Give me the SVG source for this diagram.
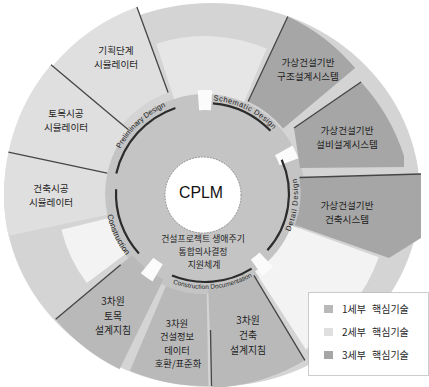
<svg xmlns="http://www.w3.org/2000/svg" width="429" height="387" viewBox="0 0 429 387">
<defs>
<style>
.ko{font-family:"Noto Sans CJK KR","Noto Sans",sans-serif;fill:#1e1e1e;text-anchor:middle}
.lab{font-size:9.6px}
.ph{font-family:"Liberation Sans",Arial,sans-serif;fill:#1e1e1e;text-anchor:middle}
.s2{fill:#dfdfdf}
.s1{fill:#b9b9b9}
.s3{fill:#a6a6a6}
.gap{fill:#f3f3f3}
.notch{fill:#fbfbfb}
.edge{stroke:#454545;stroke-width:1.3;fill:none}
.arc{stroke:#2c2c2c;stroke-width:2.2;fill:none}
.lg{font-family:"Noto Sans CJK KR","Noto Sans",sans-serif;font-size:10px;fill:#1e1e1e}
</style>
<path id="pPre" d="M113.2,165.9 A96 96 0 0 1 183.4,100.5"/>
<path id="pSch" d="M198.4,100.2 A94 94 0 0 1 282.9,141.4"/>
<path id="pDet" d="M279.3,250.0 A93 93 0 0 0 290.6,157.7"/>
<path id="pDoc" d="M164.9,280.1 A95 95 0 0 0 259.5,271.8"/>
<path id="pCon" d="M105.4,202.7 A100 100 0 0 0 134.3,264.7"/>
</defs>
<rect width="429" height="387" fill="#ffffff"/>
<g id="background">
<ellipse cx="212" cy="195" rx="208" ry="192" fill="#d4d4d4"/>
<circle cx="205" cy="194" r="100" fill="#c4c4c4"/>
<path fill="#e6e6e6" d="M174.1,98.9 L156.2,43.7 A158 158 0 0 1 266.7,48.6 L244.1,102.0 A100 100 0 0 0 174.1,98.9 Z"/>
<path class="gap" d="M125.1,254.2 L86.8,283.1 A148 148 0 0 1 61.4,229.8 L108.0,218.2 A100 100 0 0 0 125.1,254.2 Z"/>
<path class="gap" d="M291.5,225.5 L378.8,257.3 A185 185 0 0 1 305.8,349.2 L255.1,271.2 A92 92 0 0 0 291.5,225.5 Z"/>
</g>
<g id="seg-planning-sim">
<path class="s2" d="M122.3,124.6 L52.6,66.1 A199 199 0 0 1 136.9,7.0 L168.1,92.5 A108 108 0 0 0 122.3,124.6 Z"/>
<line class="edge" x1="168.1" y1="92.5" x2="136.9" y2="7.0"/>
<text class="ko lab" x="116" y="54">기획단계<tspan x="116" y="68">시뮬레이터</tspan></text>
</g>
<g id="seg-civil-sim">
<path class="s2" d="M107.2,173.2 L8.4,152.2 A201 201 0 0 1 51.0,64.8 L128.4,129.7 A100 100 0 0 0 107.2,173.2 Z"/>
<line class="edge" x1="128.4" y1="129.7" x2="51.0" y2="64.8"/>
<text class="ko lab" x="66" y="117">토목시공<tspan x="66" y="131">시뮬레이터</tspan></text>
</g>
<g id="seg-arch-sim">
<path class="s2" d="M107.2,214.8 L8.4,235.8 A201 201 0 0 1 8.4,152.2 L107.2,173.2 A100 100 0 0 0 107.2,214.8 Z"/>
<line class="edge" x1="107.2" y1="173.2" x2="8.4" y2="152.2"/>
<text class="ko lab" x="51" y="191.5">건축시공<tspan x="51" y="205.5">시뮬레이터</tspan></text>
</g>
<g id="seg-structure">
<path class="s3" d="M248.1,101.6 L287.8,16.4 A196 196 0 0 1 355.1,68.0 L283.1,128.4 A102 102 0 0 0 248.1,101.6 Z"/>
<line class="edge" x1="248.1" y1="101.6" x2="287.8" y2="16.4"/>
<text class="ko lab" x="308" y="66">가상건설기반<tspan x="308" y="80">구조설계시스템</tspan></text>
</g>
<g id="seg-mep">
<path class="s3" d="M294,128 L361,82 A200 200 0 0 1 404,156 L404,167 L300,168 Z"/>
<line class="edge" x1="294" y1="128" x2="361" y2="82"/>
<text class="ko lab" x="347" y="133.5">가상건설기반<tspan x="347" y="147.5">설비설계시스템</tspan></text>
</g>
<g id="seg-architecture">
<path class="s3" d="M299.5,178 L421,174 L421,238 L389,258 L295,225 A95 95 0 0 0 299.5,178 Z"/>
<line class="edge" x1="299.5" y1="177.5" x2="421" y2="174"/>
<text class="ko lab" x="347" y="208.5">가상건설기반<tspan x="347" y="222.5">건축시스템</tspan></text>
</g>
<g id="seg-arch-guide">
<path class="s1" d="M253.9,275.4 L304.9,360.3 A194 194 0 0 1 211.8,387.9 L208.3,288.9 A95 95 0 0 0 253.9,275.4 Z"/>
<line class="edge" x1="253.9" y1="275.4" x2="304.9" y2="360.3"/>
<text class="ko" font-size="9.8" x="248" y="324">3차원<tspan x="248" y="339">건축</tspan><tspan x="248" y="354">설계지침</tspan></text>
</g>
<g id="seg-data">
<path class="s1" d="M206.7,294 L208.4,386 A192 192 0 0 1 130.0,370.7 L165.9,286.1 A100 100 0 0 0 206.7,294 Z"/>
<line class="edge" x1="210.5" y1="330" x2="211.5" y2="386"/>
<text class="ko" font-size="9.3" x="177" y="326.5">3차원<tspan x="177" y="340">건설정보</tspan><tspan x="177" y="353.5">데이터</tspan><tspan x="178" y="367">호환/표준화</tspan></text>
</g>
<g id="seg-civil-guide">
<path class="s1" d="M163.4,279.4 L119.5,369.3 A195 195 0 0 1 55.6,319.3 L132.2,255.1 A95 95 0 0 0 163.4,279.4 Z"/>
<line class="edge" x1="120.7" y1="264.7" x2="55.6" y2="319.3"/>
<text class="ko" font-size="9.8" x="113" y="305">3차원<tspan x="113" y="319.5">토목</tspan><tspan x="113" y="334">설계지침</tspan></text>
</g>
<g id="notches">
<path class="notch" d="M199.1,110.2 L197.7,90.2 A104 104 0 0 1 212.3,90.2 L210.9,110.2 A84 84 0 0 0 199.1,110.2 Z"/>
<path class="notch" d="M275.0,155.2 L292.5,145.5 A100 100 0 0 1 298.4,158.2 L279.7,165.3 A80 80 0 0 0 275.0,155.2 Z"/>
<path class="notch" d="M259.6,252.5 L273.2,267.1 A100 100 0 0 1 262.4,275.9 L250.9,259.5 A80 80 0 0 0 259.6,252.5 Z"/>
<path class="notch" d="M162.8,264.3 L152.5,281.4 A102 102 0 0 1 140.8,273.3 L153.4,257.7 A82 82 0 0 0 162.8,264.3 Z"/>
</g>
<g id="phase-arcs">
<path class="arc" d="M116.3,173.5 A91 91 0 0 1 175.4,108.0"/>
<path class="arc" d="M212.9,103.3 A91 91 0 0 1 270.5,130.8"/>
<path class="arc" d="M281.7,159.8 A84 84 0 0 1 267.4,250.2"/>
<path class="arc" d="M251.6,268.6 A88 88 0 0 1 172.0,275.6"/>
<path class="arc" d="M138.9,253.5 A89 89 0 0 1 116.1,189.3"/>
</g>
<g id="phase-labels">
<text class="ph" font-size="7.5"><textPath href="#pPre" startOffset="50%">Preliminary Design</textPath></text>
<text class="ph" font-size="7.5" letter-spacing="0.5"><textPath href="#pSch" startOffset="50%">Schematic Design</textPath></text>
<text class="ph" font-size="7.5" letter-spacing="0.8"><textPath href="#pDet" startOffset="50%">Detail Design</textPath></text>
<text class="ph" font-size="6.5"><textPath href="#pDoc" startOffset="50%">Construction Documentation</textPath></text>
<text class="ph" font-size="8"><textPath href="#pCon" startOffset="50%">Construction</textPath></text>
</g>
<g id="center">
<circle cx="203" cy="195" r="38" fill="#ffffff" stroke="#8a8a8a" stroke-width="1" stroke-dasharray="1.5 1.5"/>
<text x="201" y="198" font-family="Liberation Sans, Arial, sans-serif" font-size="17" fill="#111" text-anchor="middle" textLength="44" lengthAdjust="spacingAndGlyphs">CPLM</text>
<text class="ko" font-size="8.9" x="203" y="242">건설프로젝트 생애주기<tspan x="203" y="255">통합의사결정</tspan><tspan x="204" y="268">지원체계</tspan></text>
</g>
<g id="legend">
<rect x="308.5" y="292.5" width="120" height="83" fill="#ffffff" stroke="#9a9a9a" stroke-width="1" stroke-dasharray="1 1"/>
<rect x="324" y="305" width="9" height="8" fill="#b9b9b9"/>
<rect x="324" y="328" width="9" height="8" fill="#dfdfdf"/>
<rect x="324" y="351" width="9" height="8" fill="#a6a6a6"/>
<text class="lg" x="342" y="313">1세부<tspan x="372">핵심기술</tspan></text>
<text class="lg" x="342" y="336">2세부<tspan x="372">핵심기술</tspan></text>
<text class="lg" x="342" y="359">3세부<tspan x="372">핵심기술</tspan></text>
</g>
</svg>
